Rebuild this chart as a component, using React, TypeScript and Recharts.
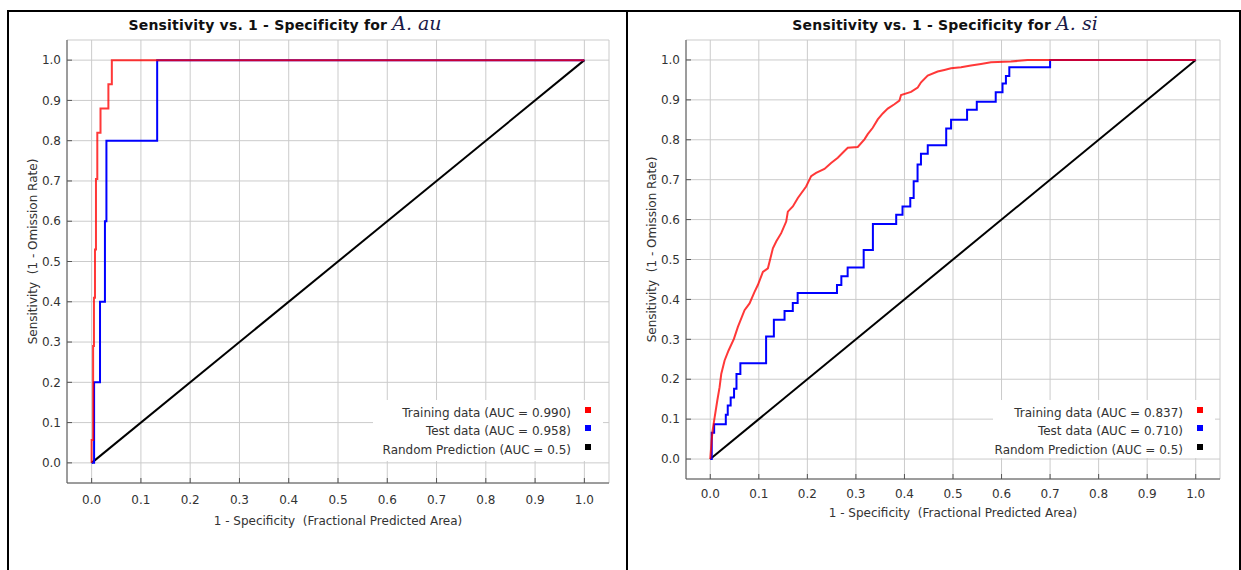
import { CartesianGrid, Line, LineChart, XAxis, YAxis } from "recharts";

type Pt = { fpr: number; tpr: number };

const FONT = '"DejaVu Sans", sans-serif';
const TICKS = [0, 0.1, 0.2, 0.3, 0.4, 0.5, 0.6, 0.7, 0.8, 0.9, 1.0];
const DOMAIN: [number, number] = [-0.05, 1.05];

const TITLE = "Sensitivity vs. 1 - Specificity for ";
const X_TITLE = "1 - Specificity \u00a0(Fractional Predicted Area)";
const Y_TITLE = "Sensitivity \u00a0(1 - Omission Rate)";

const SERIES_COLORS = ["#ff0000", "#0000ff", "#000000"];

// A. au : step points, tpr rises to the value at that fpr
const auTraining: Pt[] = [
  { fpr: 0, tpr: 0 },
  { fpr: 0, tpr: 0.057 },
  { fpr: 0.003, tpr: 0.29 },
  { fpr: 0.0047, tpr: 0.41 },
  { fpr: 0.0068, tpr: 0.53 },
  { fpr: 0.0088, tpr: 0.705 },
  { fpr: 0.0115, tpr: 0.82 },
  { fpr: 0.018, tpr: 0.88 },
  { fpr: 0.034, tpr: 0.94 },
  { fpr: 0.041, tpr: 1.0 },
  { fpr: 1.0, tpr: 1.0 },
];

const auTest: Pt[] = [
  { fpr: 0, tpr: 0 },
  { fpr: 0.005, tpr: 0.2 },
  { fpr: 0.017, tpr: 0.4 },
  { fpr: 0.027, tpr: 0.6 },
  { fpr: 0.03, tpr: 0.8 },
  { fpr: 0.133, tpr: 1.0 },
  { fpr: 1.0, tpr: 1.0 },
];

// A. si : training curve is dense, kept as a polyline
const siTraining: Pt[] = [
  { fpr: 0, tpr: 0 },
  { fpr: 0.0027, tpr: 0.045 },
  { fpr: 0.0048, tpr: 0.071 },
  { fpr: 0.0089, tpr: 0.104 },
  { fpr: 0.0144, tpr: 0.146 },
  { fpr: 0.0192, tpr: 0.18 },
  { fpr: 0.0226, tpr: 0.213 },
  { fpr: 0.0295, tpr: 0.247 },
  { fpr: 0.0377, tpr: 0.272 },
  { fpr: 0.0487, tpr: 0.301 },
  { fpr: 0.0569, tpr: 0.331 },
  { fpr: 0.0706, tpr: 0.373 },
  { fpr: 0.0809, tpr: 0.39 },
  { fpr: 0.0912, tpr: 0.419 },
  { fpr: 0.098, tpr: 0.436 },
  { fpr: 0.1084, tpr: 0.469 },
  { fpr: 0.1187, tpr: 0.478 },
  { fpr: 0.129, tpr: 0.528 },
  { fpr: 0.1358, tpr: 0.545 },
  { fpr: 0.1461, tpr: 0.566 },
  { fpr: 0.1564, tpr: 0.595 },
  { fpr: 0.1598, tpr: 0.62 },
  { fpr: 0.1701, tpr: 0.633 },
  { fpr: 0.1804, tpr: 0.654 },
  { fpr: 0.1975, tpr: 0.683 },
  { fpr: 0.2078, tpr: 0.709 },
  { fpr: 0.218, tpr: 0.717 },
  { fpr: 0.2352, tpr: 0.727 },
  { fpr: 0.2489, tpr: 0.742 },
  { fpr: 0.2627, tpr: 0.755 },
  { fpr: 0.2764, tpr: 0.772 },
  { fpr: 0.2833, tpr: 0.78 },
  { fpr: 0.3038, tpr: 0.782 },
  { fpr: 0.3176, tpr: 0.801 },
  { fpr: 0.3244, tpr: 0.814 },
  { fpr: 0.3347, tpr: 0.83 },
  { fpr: 0.345, tpr: 0.851 },
  { fpr: 0.3553, tpr: 0.866 },
  { fpr: 0.3656, tpr: 0.878 },
  { fpr: 0.3793, tpr: 0.889 },
  { fpr: 0.3896, tpr: 0.898 },
  { fpr: 0.393, tpr: 0.912 },
  { fpr: 0.4136, tpr: 0.92 },
  { fpr: 0.4273, tpr: 0.931 },
  { fpr: 0.4342, tpr: 0.944 },
  { fpr: 0.4479, tpr: 0.961 },
  { fpr: 0.4684, tpr: 0.971 },
  { fpr: 0.4822, tpr: 0.975 },
  { fpr: 0.4959, tpr: 0.979 },
  { fpr: 0.5165, tpr: 0.982 },
  { fpr: 0.537, tpr: 0.986 },
  { fpr: 0.5576, tpr: 0.99 },
  { fpr: 0.5782, tpr: 0.994 },
  { fpr: 0.6193, tpr: 0.996 },
  { fpr: 0.6536, tpr: 1.0 },
  { fpr: 1.0, tpr: 1.0 },
];

const siTest: Pt[] = [
  { fpr: 0, tpr: 0 },
  { fpr: 0.003, tpr: 0.066 },
  { fpr: 0.008, tpr: 0.087 },
  { fpr: 0.032, tpr: 0.111 },
  { fpr: 0.036, tpr: 0.134 },
  { fpr: 0.042, tpr: 0.154 },
  { fpr: 0.049, tpr: 0.176 },
  { fpr: 0.054, tpr: 0.213 },
  { fpr: 0.062, tpr: 0.24 },
  { fpr: 0.115, tpr: 0.307 },
  { fpr: 0.131, tpr: 0.349 },
  { fpr: 0.153, tpr: 0.371 },
  { fpr: 0.17, tpr: 0.391 },
  { fpr: 0.18, tpr: 0.416 },
  { fpr: 0.261, tpr: 0.436 },
  { fpr: 0.27, tpr: 0.458 },
  { fpr: 0.283, tpr: 0.48 },
  { fpr: 0.316, tpr: 0.524 },
  { fpr: 0.335, tpr: 0.589 },
  { fpr: 0.383, tpr: 0.612 },
  { fpr: 0.396, tpr: 0.633 },
  { fpr: 0.412, tpr: 0.654 },
  { fpr: 0.419, tpr: 0.696 },
  { fpr: 0.427, tpr: 0.738 },
  { fpr: 0.434, tpr: 0.765 },
  { fpr: 0.448, tpr: 0.786 },
  { fpr: 0.486, tpr: 0.828 },
  { fpr: 0.496, tpr: 0.85 },
  { fpr: 0.529, tpr: 0.875 },
  { fpr: 0.549, tpr: 0.895 },
  { fpr: 0.588, tpr: 0.919 },
  { fpr: 0.602, tpr: 0.941 },
  { fpr: 0.609, tpr: 0.96 },
  { fpr: 0.616, tpr: 0.982 },
  { fpr: 0.7, tpr: 1.0 },
  { fpr: 1.0, tpr: 1.0 },
];

const randomLine: Pt[] = [
  { fpr: 0, tpr: 0 },
  { fpr: 1, tpr: 1 },
];

const auLegend = ["Training data (AUC = 0.990)", "Test data (AUC = 0.958)", "Random Prediction (AUC = 0.5)"];
const siLegend = ["Training data (AUC = 0.837)", "Test data (AUC = 0.710)", "Random Prediction (AUC = 0.5)"];

const fmt = (v: number) => v.toFixed(1);
const blank = () => "";
const tickStyle = { fill: "#333", fontSize: 12, fontFamily: FONT };
const frame = { stroke: "#555" };

type ChartProps = {
  left: number;
  width: number;
  margin: { top: number; right: number; bottom: number; left: number };
  yAxisWidth: number;
  xTickGap: number;
  xLabelOffset: number;
  yLabelOffset: number;
  training: Pt[];
  trainingType: "stepAfter" | "linear";
  test: Pt[];
};

function RocChart(p: ChartProps) {
  return (
    <div style={{ position: "absolute", left: p.left, top: 0 }}>
      <LineChart width={p.width} height={570} margin={p.margin} style={{ fontFamily: FONT }}>
        <CartesianGrid stroke="#cbcbcb" strokeWidth={1} />
        <XAxis
          type="number"
          dataKey="fpr"
          domain={DOMAIN}
          ticks={TICKS}
          interval={0}
          allowDataOverflow
          height={50}
          tickFormatter={fmt}
          tick={tickStyle}
          tickSize={-5}
          tickMargin={p.xTickGap}
          tickLine={frame}
          axisLine={frame}
          label={{
            value: X_TITLE,
            position: "insideBottom",
            offset: p.xLabelOffset,
            fill: "#333",
            fontSize: 12,
            fontFamily: FONT,
          }}
        />
        <XAxis
          xAxisId="top"
          orientation="top"
          type="number"
          dataKey="fpr"
          domain={DOMAIN}
          ticks={TICKS}
          interval={0}
          allowDataOverflow
          height={0}
          tickFormatter={blank}
          tickSize={-5}
          tickLine={frame}
          axisLine={frame}
        />
        <YAxis
          type="number"
          domain={DOMAIN}
          ticks={TICKS}
          interval={0}
          allowDataOverflow
          width={p.yAxisWidth}
          tickFormatter={fmt}
          tick={tickStyle}
          tickSize={-5}
          tickMargin={11}
          tickLine={frame}
          axisLine={frame}
          label={{
            value: Y_TITLE,
            angle: -90,
            position: "insideLeft",
            offset: p.yLabelOffset,
            dy: -10,
            fill: "#333",
            fontSize: 12,
            fontFamily: FONT,
            style: { textAnchor: "middle" },
          }}
        />
        <YAxis
          yAxisId="right"
          orientation="right"
          type="number"
          domain={DOMAIN}
          ticks={TICKS}
          interval={0}
          allowDataOverflow
          width={0}
          tickFormatter={blank}
          tickSize={-5}
          tickLine={frame}
          axisLine={frame}
        />
        <Line
          data={randomLine}
          dataKey="tpr"
          type="linear"
          stroke={SERIES_COLORS[2]}
          strokeWidth={2}
          dot={false}
          activeDot={false}
          isAnimationActive={false}
        />
        <Line
          data={p.test}
          dataKey="tpr"
          type="stepAfter"
          stroke={SERIES_COLORS[1]}
          strokeWidth={2}
          dot={false}
          activeDot={false}
          isAnimationActive={false}
        />
        <Line
          data={p.training}
          dataKey="tpr"
          type={p.trainingType}
          stroke={SERIES_COLORS[0]}
          strokeOpacity={0.78}
          strokeWidth={2}
          dot={false}
          activeDot={false}
          isAnimationActive={false}
        />
      </LineChart>
    </div>
  );
}

function RocLegend(p: { left: number; top: number; width: number; height: number; padRight: number; labels: string[] }) {
  return (
    <div
      style={{
        position: "absolute",
        left: p.left,
        top: p.top,
        width: p.width,
        height: p.height,
        background: "#fff",
        boxSizing: "border-box",
        paddingTop: 4,
        paddingRight: p.padRight,
        fontFamily: FONT,
        fontSize: 12,
        color: "#333",
      }}
    >
      {p.labels.map((label, i) => (
        <div
          key={label}
          style={{ display: "flex", justifyContent: "flex-end", alignItems: "center", height: 18.3, lineHeight: "18.3px" }}
        >
          <span style={{ whiteSpace: "nowrap" }}>{label}</span>
          <span
            style={{
              display: "inline-block",
              width: 6,
              height: 6,
              marginLeft: 14,
              marginTop: -6,
              background: SERIES_COLORS[i],
            }}
          />
        </div>
      ))}
    </div>
  );
}

function Title(p: { center: number; species: string }) {
  return (
    <div
      style={{
        position: "absolute",
        left: p.center - 250,
        width: 500,
        top: 13,
        textAlign: "center",
        whiteSpace: "pre",
        fontFamily: FONT,
        fontWeight: "bold",
        fontSize: 14,
        letterSpacing: 0.2,
        lineHeight: "20px",
        color: "#111",
      }}
    >
      {TITLE}
      <span
        style={{
          fontFamily: '"DejaVu Serif", serif',
          fontStyle: "italic",
          fontWeight: "normal",
          fontSize: 19,
          letterSpacing: 0,
          color: "#1a1a48",
        }}
      >
        {p.species}
      </span>
    </div>
  );
}

export default function App() {
  return (
    <div
      style={{
        position: "absolute",
        left: 0,
        top: 0,
        width: 1241,
        height: 570,
        background: "#fff",
        overflow: "hidden",
      }}
    >
      <div
        style={{
          position: "absolute",
          left: 7,
          top: 10,
          width: 621,
          height: 600,
          border: "2px solid #000",
          boxSizing: "border-box",
        }}
      />
      <div
        style={{
          position: "absolute",
          left: 626,
          top: 10,
          width: 615,
          height: 600,
          border: "2px solid #000",
          boxSizing: "border-box",
        }}
      />
      <RocChart
        left={0}
        width={628}
        margin={{ top: 40, right: 19, bottom: 37, left: 0 }}
        yAxisWidth={67}
        xTickGap={17}
        xLabelOffset={8}
        yLabelOffset={33}
        training={auTraining}
        trainingType="stepAfter"
        test={auTest}
      />
      <RocChart
        left={626}
        width={615}
        margin={{ top: 40, right: 21, bottom: 41, left: 0 }}
        yAxisWidth={60}
        xTickGap={15}
        xLabelOffset={12}
        yLabelOffset={26}
        training={siTraining}
        trainingType="linear"
        test={siTest}
      />
      <RocLegend left={373} top={400} width={230} height={61} padRight={12} labels={auLegend} />
      <RocLegend left={993} top={400} width={222} height={58} padRight={12} labels={siLegend} />
      <Title center={285} species="A. au" />
      <Title center={945} species="A. si" />
    </div>
  );
}
